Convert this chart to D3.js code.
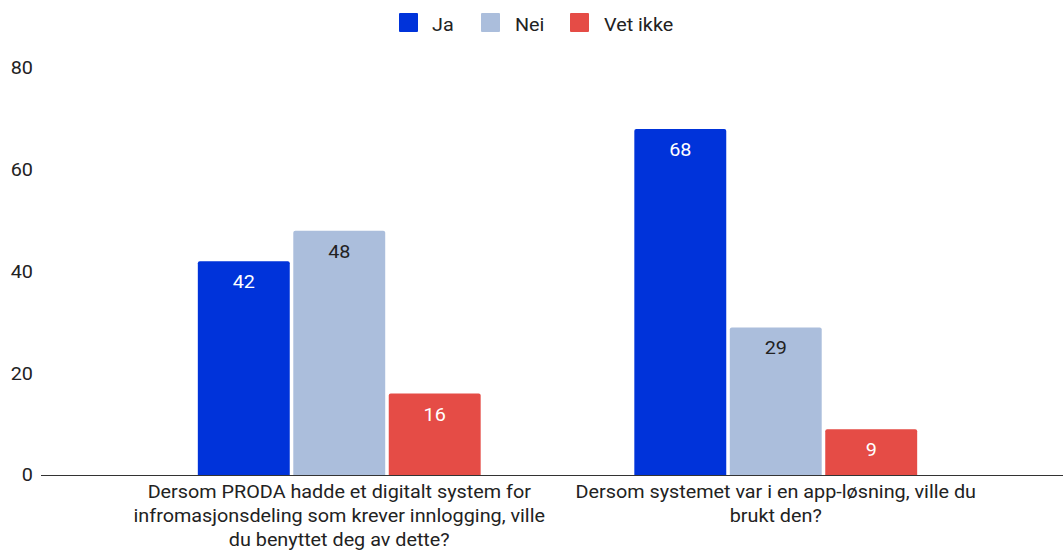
<!DOCTYPE html>
<html><head><meta charset="utf-8">
<script src="https://cdn.jsdelivr.net/npm/d3@7"></script>
<style>body{margin:0;background:#fff}svg{display:block;font-family:Roboto,"Open Sans",sans-serif}</style>
</head><body><svg id="c" width="1063" height="558"></svg>
<script>
const categories = [
  ["Dersom PRODA hadde et digitalt system for","infromasjonsdeling som krever innlogging, ville","du benyttet deg av dette?"],
  ["Dersom systemet var i en app-løsning, ville du","brukt den?"]
];
const series = ["Ja","Nei","Vet ikke"];
const colors = ["#0033da","#abbedc","#e54c46"];
const labelColors = ["#ffffff","#222222","#ffffff"];
const valuesJa = [42, 68];
const valuesNei = [48, 29];
const valuesVet = [16, 9];
const yTicks = [0,20,40,60,80];
const allValues = [valuesJa, valuesNei, valuesVet];

const FS = 18, SX = 1.1;
const svg = d3.select("#c");
function txt(parent, x, y, s, anchor, fill){
  return parent.append("text").attr("transform",`translate(${x},${y}) scale(${SX},1)`)
    .attr("text-anchor",anchor).attr("font-size",FS).attr("fill",fill).text(s);
}
const catKeys = categories.map((c,i)=>"c"+i);
const x0 = d3.scaleBand().domain(catKeys).range([121,994]).paddingInner(0.352).paddingOuter(0.176);
const x1 = d3.scaleBand().domain(series).range([0,x0.bandwidth()]).paddingInner(0.037).paddingOuter(0);
const y = d3.scaleLinear().domain([0,80]).range([475,68]);

// y tick labels
const yAxis = d3.axisLeft(y).tickValues(yTicks).tickSize(0).tickPadding(0);
const gy = svg.append("g").attr("transform","translate(33,0)").call(yAxis);
gy.select(".domain").remove();
gy.selectAll("text").attr("font-size",FS).attr("fill","#222").attr("font-family","Roboto")
  .attr("transform",`scale(${SX},1)`);

// bars
catKeys.forEach((ck,ci)=>{
  const g = svg.append("g").attr("transform",`translate(${x0(ck)},0)`);
  series.forEach((s,si)=>{
    const v = allValues[si][ci];
    g.append("path")
      .attr("d", (()=>{const bx=x1(s), bw=x1.bandwidth(), top=y(v), bot=y(0), r=2;
        return `M${bx},${bot}V${top+r}Q${bx},${top} ${bx+r},${top}H${bx+bw-r}Q${bx+bw},${top} ${bx+bw},${top+r}V${bot}Z`;})())
      .attr("fill", colors[si]);
    txt(g, x1(s)+x1.bandwidth()/2, y(v)+27, v, "middle", labelColors[si]);
  });
});

// baseline
svg.append("line").attr("x1",41).attr("x2",1063).attr("y1",y(0)+0.5).attr("y2",y(0)+0.5)
  .attr("stroke","#333").attr("stroke-width",1);

// category labels
catKeys.forEach((ck,ci)=>{
  const cx = x0(ck)+x0.bandwidth()/2;
  categories[ci].forEach((line,li)=>{
    txt(svg, cx, 498+li*24, line, "middle", "#222");
  });
});

// legend
const legendX = [399,481,570];
const legendTX = [432,515,604];
series.forEach((s,i)=>{
  svg.append("rect").attr("x",legendX[i]).attr("y",13).attr("width",19).attr("height",19).attr("rx",1).attr("fill",colors[i]);
  txt(svg, legendTX[i], 31, s, "start", "#222");
});
</script></body></html>
